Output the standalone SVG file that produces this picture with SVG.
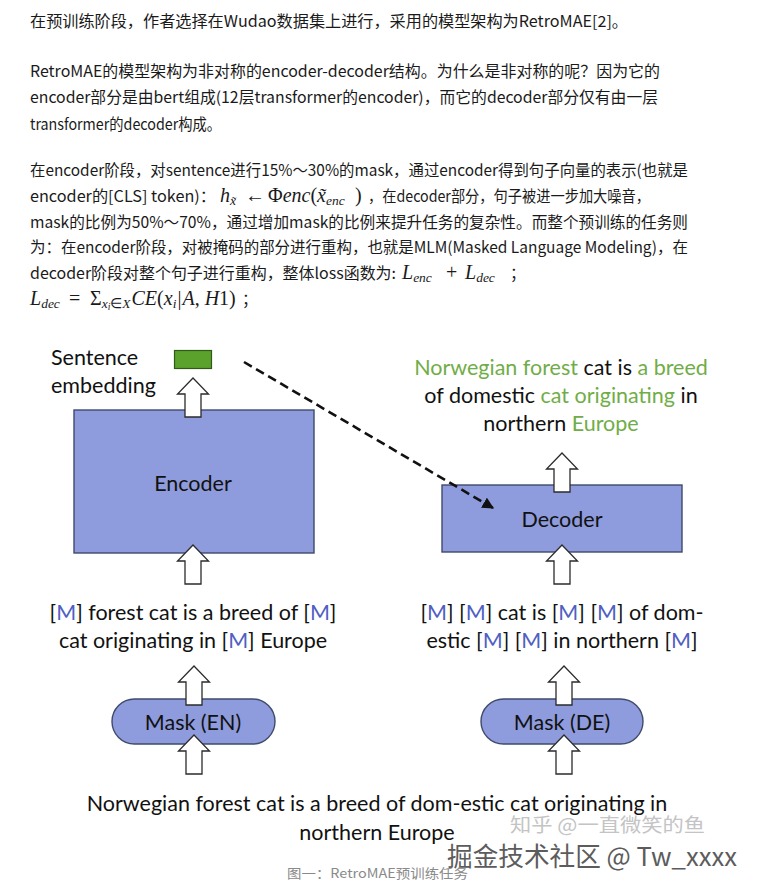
<svg xmlns="http://www.w3.org/2000/svg" width="760" height="893" viewBox="0 0 760 893">
<style>
.p{font-family:"Noto Sans CJK SC","Noto Sans",sans-serif;font-size:15.5px;fill:#1a1a1a}
.m{font-family:"Liberation Serif",serif;font-size:20px;fill:#1a1a1a;font-style:italic}
.mu{font-style:normal}
.s{font-size:13.5px}
.d{font-family:Lato,"Liberation Sans",sans-serif;font-size:21.5px;fill:#111}
.g{fill:#70ad47}
.b{fill:#4f5fc4}
.blk{fill:#8e9bdc;stroke:#3f4b6b;stroke-width:1.4}
.arr{fill:#fff;stroke:#2b2b2b;stroke-width:1.3}
</style>
<defs>
<path id="ba" d="M0,0 L15.5,16 L8,16 L8,39 L-8,39 L-8,16 L-15.5,16 Z"/>
<marker id="ah" viewBox="0 0 10 10" refX="9" refY="5" markerWidth="4.5" markerHeight="4.5" orient="auto" markerUnits="strokeWidth">
<path d="M0,0 L10,5 L0,10 Z" fill="#111"/>
</marker>
</defs>
<rect width="760" height="893" fill="#fff"/>

<g id="article-text">
<text class="p" x="30" y="27" textLength="598" lengthAdjust="spacingAndGlyphs">在预训练阶段，作者选择在Wudao数据集上进行，采用的模型架构为RetroMAE[2]。</text>
<text class="p" x="30" y="77" textLength="630" lengthAdjust="spacingAndGlyphs">RetroMAE的模型架构为非对称的encoder-decoder结构。为什么是非对称的呢？因为它的</text>
<text class="p" x="30" y="103" textLength="628" lengthAdjust="spacingAndGlyphs">encoder部分是由bert组成(12层transformer的encoder)，而它的decoder部分仅有由一层</text>
<text class="p" x="30" y="130" textLength="191" lengthAdjust="spacingAndGlyphs">transformer的decoder构成。</text>

<text class="p" x="30" y="176" textLength="658" lengthAdjust="spacingAndGlyphs">在encoder阶段，对sentence进行15%～30%的mask，通过encoder得到句子向量的表示(也就是</text>
<text class="p" x="30" y="202" textLength="186" lengthAdjust="spacingAndGlyphs">encoder的[CLS] token)：</text>
<text class="m" y="202"><tspan x="220">h</tspan><tspan dy="3" class="s">x̃</tspan><tspan x="245" dy="-3" class="mu">←</tspan><tspan x="268" class="mu">Φ</tspan><tspan>enc</tspan><tspan class="mu">(</tspan><tspan>x̃</tspan><tspan dy="3" class="s">enc</tspan><tspan x="355" dy="-3" class="mu">)</tspan></text>
<text class="p" x="368" y="202" textLength="282" lengthAdjust="spacingAndGlyphs">，在decoder部分，句子被进一步加大噪音，</text>
<text class="p" x="30" y="228" textLength="658" lengthAdjust="spacingAndGlyphs">mask的比例为50%～70%，通过增加mask的比例来提升任务的复杂性。而整个预训练的任务则</text>
<text class="p" x="30" y="253" textLength="658" lengthAdjust="spacingAndGlyphs">为：在encoder阶段，对被掩码的部分进行重构，也就是MLM(Masked Language Modeling)，在</text>
<text class="p" x="30" y="279" textLength="366" lengthAdjust="spacingAndGlyphs">decoder阶段对整个句子进行重构，整体loss函数为:</text>
<text class="m" y="279"><tspan x="402">L</tspan><tspan dy="3" class="s">enc</tspan><tspan x="446" dy="-3" class="mu">+</tspan><tspan x="465">L</tspan><tspan dy="3" class="s">dec</tspan></text>
<text class="p" x="510" y="279">；</text>
<text class="m" y="305"><tspan x="30">L</tspan><tspan dy="3" class="s">dec</tspan><tspan x="69" dy="-3" class="mu">=</tspan><tspan x="90" class="mu">Σ</tspan><tspan dy="3" class="s">x</tspan><tspan dy="2" font-size="9.5px">i</tspan><tspan dy="-2" class="s mu">∈</tspan><tspan class="s">X</tspan><tspan dx="1" dy="-3">CE</tspan><tspan class="mu">(</tspan><tspan>x</tspan><tspan dy="3" class="s">i</tspan><tspan dx="1" dy="-3" class="mu">|</tspan><tspan dx="1">A</tspan><tspan class="mu">, </tspan><tspan>H</tspan><tspan class="mu">1)</tspan></text>
<text class="p" x="242" y="305">；</text>
</g>

<g id="encoder">
<rect class="blk" x="74" y="410" width="240" height="143"/>
<text class="d" x="193" y="491" text-anchor="middle">Encoder</text>
</g>
<g id="decoder">
<rect class="blk" x="442" y="485" width="240" height="67"/>
<text class="d" x="562" y="527" text-anchor="middle">Decoder</text>
</g>

<g id="connectors">
<line x1="244" y1="362" x2="493" y2="508" stroke="#111" stroke-width="2.6" stroke-dasharray="9 5" marker-end="url(#ah)"/>
</g>

<g id="sentence-embedding">
<rect x="174.5" y="350.5" width="37" height="18" fill="#5ba22d" stroke="#2f5a18" stroke-width="1.2"/>
<text class="d" x="51" y="365">Sentence</text>
<text class="d" x="51" y="393">embedding</text>
</g>

<g id="output-text">
<text class="d" x="561" y="375" text-anchor="middle"><tspan class="g">Norwegian forest</tspan> cat is <tspan class="g">a breed</tspan></text>
<text class="d" x="561" y="403" text-anchor="middle">of domestic <tspan class="g">cat originating</tspan> in</text>
<text class="d" x="561" y="431" text-anchor="middle">northern <tspan class="g">Europe</tspan></text>
</g>

<g id="masked-en">
<text class="d" x="193" y="620" text-anchor="middle">[<tspan class="b">M</tspan>] forest cat is a breed of [<tspan class="b">M</tspan>]</text>
<text class="d" x="193" y="648" text-anchor="middle">cat originating in [<tspan class="b">M</tspan>] Europe</text>
</g>
<g id="masked-de">
<text class="d" x="562" y="620" text-anchor="middle">[<tspan class="b">M</tspan>] [<tspan class="b">M</tspan>] cat is [<tspan class="b">M</tspan>] [<tspan class="b">M</tspan>] of dom-</text>
<text class="d" x="562" y="648" text-anchor="middle">estic [<tspan class="b">M</tspan>] [<tspan class="b">M</tspan>] in northern [<tspan class="b">M</tspan>]</text>
</g>

<g id="mask-en">
<rect class="blk" x="112" y="699" width="163" height="45" rx="22.5"/>
<text class="d" x="193" y="730" text-anchor="middle">Mask (EN)</text>
</g>
<g id="mask-de">
<rect class="blk" x="481" y="699" width="162" height="45" rx="22.5"/>
<text class="d" x="562" y="730" text-anchor="middle">Mask (DE)</text>
</g>

<g id="block-arrows">
<use href="#ba" class="arr" x="193" y="378"/>
<use href="#ba" class="arr" x="193" y="545"/>
<use href="#ba" class="arr" x="562" y="453"/>
<use href="#ba" class="arr" x="562" y="545"/>
<use href="#ba" class="arr" x="194" y="666"/>
<use href="#ba" class="arr" x="194" y="735"/>
<use href="#ba" class="arr" x="564" y="666"/>
<use href="#ba" class="arr" x="564" y="735"/>
</g>

<g id="input-sentence">
<text class="d" x="377" y="811" text-anchor="middle">Norwegian forest cat is a breed of dom-estic cat originating in</text>
<text class="d" x="377" y="840" text-anchor="middle">northern Europe</text>
</g>

<g id="watermarks">
<text x="510" y="832" font-family="'Noto Sans CJK SC',sans-serif" font-size="19px" fill="#c4c4c4" textLength="195" lengthAdjust="spacingAndGlyphs">知乎 @一直微笑的鱼</text>
<text x="447" y="866" font-family="'Noto Sans CJK SC',sans-serif" font-size="26px" fill="#5c5c5c" stroke="#fff" stroke-width="2" paint-order="stroke" textLength="290" lengthAdjust="spacingAndGlyphs">掘金技术社区 @ Tw_xxxx</text>
<text x="287" y="878" font-family="'Noto Sans CJK SC',sans-serif" font-size="13px" fill="#8a8a8a" textLength="181" lengthAdjust="spacingAndGlyphs">图一：RetroMAE预训练任务</text>
</g>
</svg>
